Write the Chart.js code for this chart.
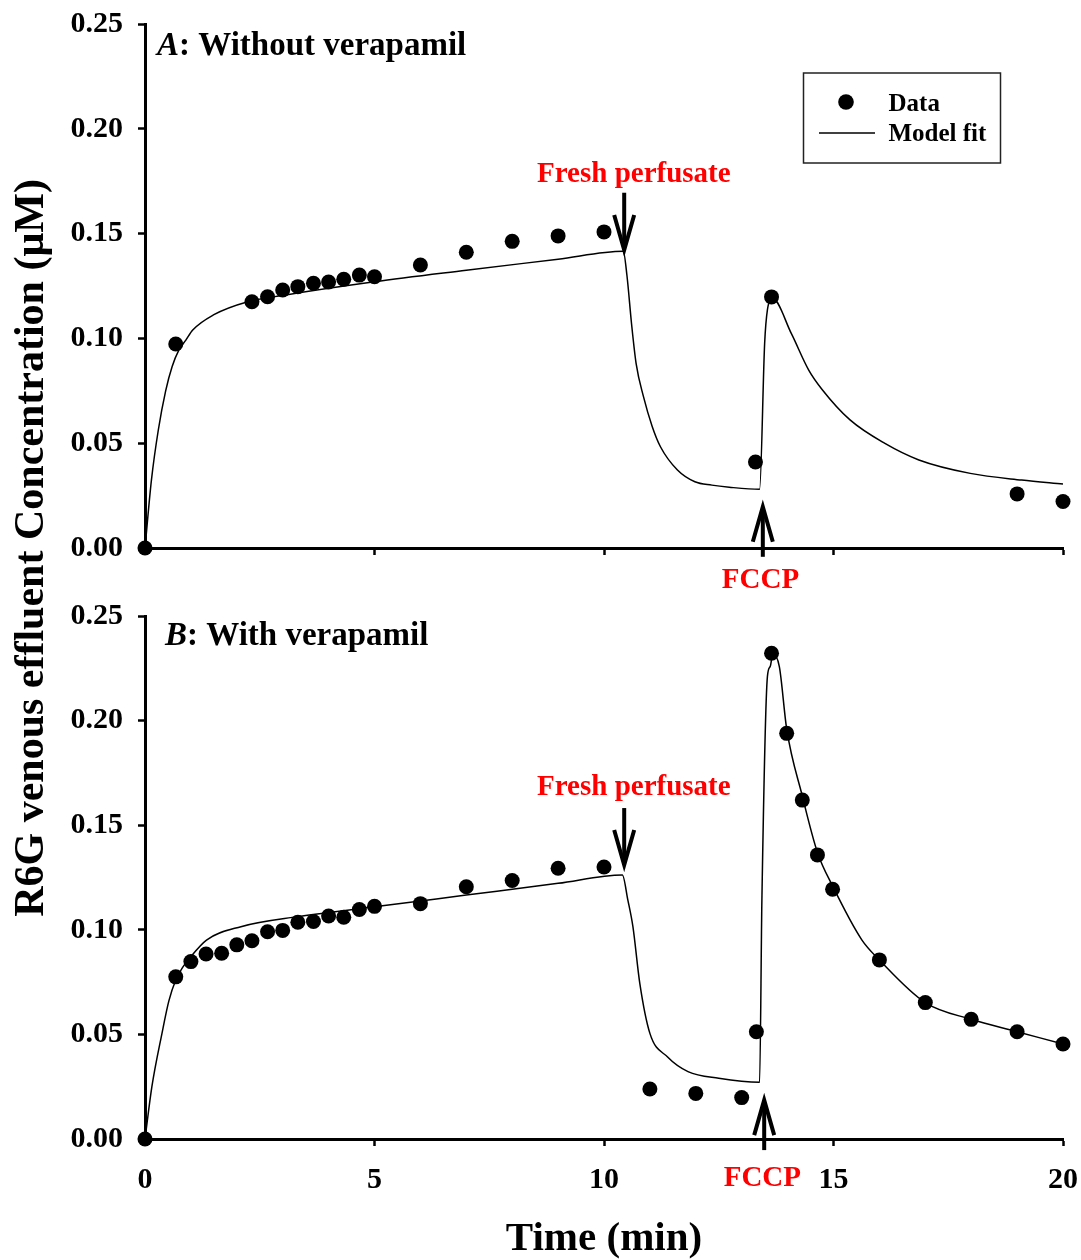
<!DOCTYPE html>
<html>
<head>
<meta charset="utf-8">
<title>R6G venous effluent concentration</title>
<script src="https://cdn.jsdelivr.net/npm/chart.js@4.4.0/dist/chart.umd.min.js"></script>
<style>
  html, body { margin: 0; padding: 0; background: #fff; }
  #wrap { position: relative; width: 1081px; height: 1260px; }
  #wrap canvas { position: absolute; left: 0; top: 0; }
</style>
</head>
<body>
<div id="wrap">
  <canvas id="chartB" width="1081" height="1260"></canvas>
  <canvas id="chartA" width="1081" height="600"></canvas>
</div>
<script>
// tick labels
const timeTicks = [0, 5, 10, 15, 20];
const concTicks = [0, 0.05, 0.10, 0.15, 0.20, 0.25];

// Panel A: without verapamil (visible data points)
const dataTimeA = [0, 0.67, 2.33, 2.67, 3.0, 3.33, 3.67, 4.0, 4.33, 4.67, 5.0, 6, 7, 8, 9, 10, 13.3, 13.65, 19, 20];
const dataConcA = [0, 0.0973, 0.1175, 0.1199, 0.1231, 0.1247, 0.1263, 0.1269, 0.1282, 0.1302, 0.1294, 0.135, 0.1411, 0.1463, 0.1489, 0.1508, 0.041, 0.1198, 0.0258, 0.0222];

const modelTimeA = [0, 0.14, 0.29, 0.45, 0.59, 0.74, 0.89, 1.04, 1.49, 2.24, 3, 5, 7, 9, 10.42, 10.5, 10.6, 10.7, 10.86, 11.05, 11.23, 11.6, 11.98, 12.35, 12.73, 13.39, 13.5, 13.56, 13.67, 14.08, 14.46, 14.76, 15.36, 16.11, 16.86, 17.98, 19.1, 20];
const modelConcA = [0, 0.0324, 0.0563, 0.075, 0.0865, 0.0945, 0.0992, 0.104, 0.1112, 0.1175, 0.1205, 0.127, 0.1325, 0.1378, 0.1416, 0.130, 0.107, 0.088, 0.0722, 0.058, 0.0483, 0.0372, 0.0316, 0.03, 0.029, 0.028, 0.0977, 0.1136, 0.1191, 0.1024, 0.0849, 0.0754, 0.0611, 0.05, 0.042, 0.0356, 0.0324, 0.0305];

// Panel B: with verapamil
const dataTimeB = [0, 0.67, 1.0, 1.33, 1.67, 2.0, 2.33, 2.67, 3.0, 3.33, 3.67, 4.0, 4.33, 4.67, 5.0, 6, 7, 8, 9, 10, 11, 12, 13, 13.32, 13.65, 13.98, 14.32, 14.65, 14.98, 16, 17, 18, 19, 20];
const dataConcB = [0, 0.0775, 0.0848, 0.0884, 0.0888, 0.0928, 0.0948, 0.0991, 0.0997, 0.1036, 0.104, 0.1066, 0.106, 0.1097, 0.1112, 0.1125, 0.1206, 0.1236, 0.1294, 0.13, 0.0239, 0.0218, 0.0198, 0.0513, 0.2322, 0.1939, 0.162, 0.1358, 0.1194, 0.0856, 0.0652, 0.0572, 0.0513, 0.0454];

const modelTimeB = [0, 0.15, 0.37, 0.52, 0.67, 0.82, 0.97, 1.34, 2.09, 3.33, 5, 7, 9, 10.4, 10.52, 10.63, 10.78, 11.0, 11.38, 11.83, 12.5, 13.39, 13.44, 13.56, 13.62, 13.68, 13.82, 13.98, 14.32, 14.65, 14.98, 15.62, 16, 17, 18, 19, 20];
const modelConcB = [0, 0.025, 0.0505, 0.066, 0.076, 0.082, 0.0864, 0.0951, 0.1015, 0.1063, 0.111, 0.1166, 0.1222, 0.1262, 0.1142, 0.1015, 0.0744, 0.0505, 0.0393, 0.0322, 0.029, 0.0271, 0.1142, 0.221, 0.2258, 0.232, 0.2258, 0.196, 0.164, 0.137, 0.121, 0.0951, 0.0856, 0.0652, 0.0572, 0.0513, 0.0454];

const SERIF = '"Liberation Serif", "Times New Roman", serif';

function toPoints(xs, ys) {
  return xs.map((x, i) => ({ x: x, y: ys[i] }));
}

function datasets(dt, dc, mt, mc) {
  return [{
    label: 'Data',
    data: toPoints(dt, dc),
    showLine: false,
    pointRadius: 7.5,
    pointBackgroundColor: '#000',
    pointBorderWidth: 0,
    clip: false
  }, {
    label: 'Model fit',
    data: toPoints(mt, mc),
    showLine: true,
    borderColor: '#000',
    borderWidth: 1.5,
    pointRadius: 0,
    cubicInterpolationMode: 'monotone',
    clip: false
  }];
}

// panel letter + title, event arrows, legend box, shared axis title
const decorPlugin = {
  id: 'decor',
  afterDraw(chart, args, opts) {
    const { ctx, chartArea } = chart;
    const x = chart.scales.x, y = chart.scales.y;
    ctx.save();

    // panel title
    ctx.fillStyle = '#000';
    ctx.textAlign = 'left';
    ctx.textBaseline = 'alphabetic';
    let tx = chartArea.left + opts.titleDx;
    const ty = chartArea.top + opts.titleDy;
    ctx.font = 'italic bold 33px ' + SERIF;
    ctx.fillText(opts.letter, tx, ty);
    tx += ctx.measureText(opts.letter).width;
    ctx.font = 'bold 33px ' + SERIF;
    ctx.fillText(': ' + opts.title, tx, ty);

    // arrows
    opts.arrows.forEach(a => {
      const ax = x.getPixelForValue(a.t);
      const y0 = y.getPixelForValue(a.from);
      const y1 = y.getPixelForValue(a.to);
      const dir = y1 > y0 ? 1 : -1;
      ctx.strokeStyle = '#000';
      ctx.lineWidth = 4;
      ctx.lineCap = 'butt';
      ctx.lineJoin = 'miter';
      ctx.beginPath();
      ctx.moveTo(ax, y0);
      ctx.lineTo(ax, y1 - dir * 4);
      ctx.stroke();
      ctx.beginPath();
      ctx.moveTo(ax - 10, y1 - dir * 35);
      ctx.lineTo(ax, y1);
      ctx.lineTo(ax + 10, y1 - dir * 35);
      ctx.stroke();

      ctx.fillStyle = '#ff0000';
      ctx.font = 'bold 29px ' + SERIF;
      ctx.textAlign = 'center';
      ctx.fillText(a.label, x.getPixelForValue(a.labelT), y.getPixelForValue(a.labelY));
    });

    // legend box
    if (opts.legend) {
      const L = chartArea.left, T = chartArea.top;
      const ds = chart.data.datasets;
      ctx.strokeStyle = '#222';
      ctx.lineWidth = 1.5;
      ctx.strokeRect(L + 658.5, T + 49, 197, 90);
      ctx.fillStyle = ds[0].pointBackgroundColor;
      ctx.beginPath();
      ctx.arc(L + 701, T + 78, 7.8, 0, Math.PI * 2);
      ctx.fill();
      ctx.strokeStyle = ds[1].borderColor;
      ctx.lineWidth = ds[1].borderWidth;
      ctx.beginPath();
      ctx.moveTo(L + 674, T + 109);
      ctx.lineTo(L + 730, T + 109);
      ctx.stroke();
      ctx.fillStyle = '#000';
      ctx.font = 'bold 25px ' + SERIF;
      ctx.textAlign = 'left';
      ctx.fillText(ds[0].label, L + 743.5, T + 87);
      ctx.fillText(ds[1].label, L + 743.5, T + 117);
    }

    // shared y-axis title, spanning both panels
    if (opts.yTitle) {
      ctx.translate(43, 548);
      ctx.rotate(-Math.PI / 2);
      ctx.fillStyle = '#000';
      ctx.font = 'bold 42px ' + SERIF;
      ctx.textAlign = 'center';
      ctx.textBaseline = 'alphabetic';
      ctx.fillText(opts.yTitle, 0, 0);
    }
    ctx.restore();
  }
};

// keep the plot area fixed: no extra room for overhanging tick labels
function noOverhang(s) {
  s.paddingLeft = 0;
  s.paddingRight = 0;
  s.paddingTop = 0;
  s.paddingBottom = 0;
}

function makeOptions(cfg) {
  return {
    responsive: false,
    animation: false,
    events: [],
    layout: { padding: { top: cfg.top, right: 18, left: 0, bottom: 0 } },
    plugins: {
      legend: { display: false },
      tooltip: { enabled: false },
      decor: cfg.decor
    },
    scales: {
      x: {
        type: 'linear',
        min: timeTicks[0],
        max: timeTicks[timeTicks.length - 1],
        afterBuildTicks: s => { s.ticks = timeTicks.map(v => ({ value: v })); },
        afterFit: s => { s.height = cfg.xHeight; noOverhang(s); },
        border: { display: true, color: '#000', width: 3 },
        grid: { drawOnChartArea: false, drawTicks: true, tickLength: 7, tickWidth: 2.5, tickColor: '#000' },
        ticks: {
          display: cfg.xLabels,
          color: '#000',
          padding: 16,
          maxRotation: 0,
          font: { family: SERIF, size: 30, weight: 'bold' }
        },
        title: {
          display: cfg.xLabels,
          text: 'Time (min)',
          color: '#000',
          padding: { top: 0, bottom: 0 },
          font: { family: SERIF, size: 41, weight: 'bold', lineHeight: 1.0 }
        }
      },
      y: {
        min: concTicks[0],
        max: concTicks[concTicks.length - 1],
        afterBuildTicks: s => { s.ticks = concTicks.map(v => ({ value: v })); },
        afterFit: s => { s.width = 145; noOverhang(s); },
        border: { display: true, color: '#000', width: 3 },
        grid: { drawOnChartArea: false, drawTicks: true, tickLength: 7, tickWidth: 2.5, tickColor: '#000' },
        ticks: {
          color: '#000',
          padding: 15,
          callback: v => Number(v).toFixed(2),
          font: { family: SERIF, size: 30, weight: 'bold' }
        }
      }
    }
  };
}

new Chart(document.getElementById('chartA'), {
  type: 'scatter',
  data: { datasets: datasets(dataTimeA, dataConcA, modelTimeA, modelConcA) },
  options: makeOptions({
    top: 24,
    xHeight: 52,
    xLabels: false,
    decor: {
      letter: 'A', title: 'Without verapamil', titleDx: 12, titleDy: 31,
      legend: true,
      arrows: [
        { t: 10.44, from: 0.1695, to: 0.1422, label: 'Fresh perfusate', labelT: 10.65, labelY: 0.1748 },
        { t: 13.46, from: -0.0042, to: 0.0197, label: 'FCCP', labelT: 13.41, labelY: -0.0191 }
      ]
    }
  }),
  plugins: [decorPlugin]
});

new Chart(document.getElementById('chartB'), {
  type: 'scatter',
  data: { datasets: datasets(dataTimeB, dataConcB, modelTimeB, modelConcB) },
  options: makeOptions({
    top: 616,
    xHeight: 121,
    xLabels: true,
    decor: {
      letter: 'B', title: 'With verapamil', titleDx: 20, titleDy: 29,
      legend: false,
      yTitle: 'R6G venous effluent Concentration (\u03BCM)',
      arrows: [
        { t: 10.44, from: 0.1582, to: 0.131, label: 'Fresh perfusate', labelT: 10.65, labelY: 0.1644 },
        { t: 13.49, from: -0.0053, to: 0.0186, label: 'FCCP', labelT: 13.45, labelY: -0.0225 }
      ]
    }
  }),
  plugins: [decorPlugin]
});
</script>
</body>
</html>
